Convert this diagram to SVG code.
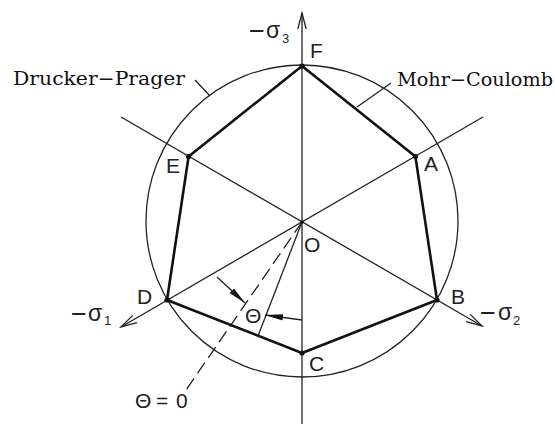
<svg xmlns="http://www.w3.org/2000/svg" width="555" height="426" viewBox="0 0 555 426">
<style>
.thin{fill:none;stroke:#222;stroke-width:1.3}
.thick{fill:none;stroke:#111;stroke-width:2.6;stroke-linejoin:round}
.dash{fill:none;stroke:#222;stroke-width:1.3;stroke-dasharray:13 6}
.lab{font-family:"Liberation Sans",Arial,sans-serif;font-size:21px;fill:#222}
.mn{font-size:27px}
.sg{font-size:23px}
.sub{font-size:13px}
.mono{font-family:"DejaVu Serif","Liberation Serif",serif;font-size:18.5px;fill:#111}
.dot{fill:#111}
</style>
<defs>
<marker id="open" markerUnits="userSpaceOnUse" markerWidth="20" markerHeight="12" refX="18" refY="6" orient="auto"><path d="M2,1.8 L18,6 L2,10.2" fill="none" stroke="#222" stroke-width="1.3"/></marker>
<marker id="solid" markerUnits="userSpaceOnUse" markerWidth="19" markerHeight="10" refX="18" refY="5" orient="auto"><path d="M0,1.8 L18,5 L0,8.2 Z" fill="#111"/></marker>
</defs>
<rect width="555" height="426" fill="#fff"/>
<g id="circle"><circle class="thin" cx="302" cy="221" r="156"/></g>
<g id="connectors">
<line class="thin" x1="302" y1="424" x2="302" y2="13" marker-end="url(#open)"/>
<line class="thin" x1="483" y1="117" x2="121" y2="327" marker-end="url(#open)"/>
<line class="thin" x1="121" y1="117" x2="482" y2="326" marker-end="url(#open)"/>
<line class="thin" x1="302" y1="222" x2="258" y2="336"/>
<line class="dash" x1="302" y1="222" x2="186" y2="390"/>
<line class="thin" x1="217" y1="277" x2="245" y2="303" marker-end="url(#solid)"/>
<line class="thin" x1="302" y1="320" x2="265" y2="315" marker-end="url(#solid)"/>
<line class="thin" x1="195" y1="80" x2="210" y2="96"/>
<line class="thin" x1="391" y1="83" x2="357" y2="107"/>
</g>
<g id="hexagon"><polygon class="thick" points="302,66 415.4,156.5 437,300 302,353 167,300 188.6,156.5"/></g>
<g id="F"><circle class="dot" cx="302" cy="66" r="2.6"/><text class="lab" x="310" y="58">F</text></g>
<g id="A"><circle class="dot" cx="415.4" cy="156.5" r="2.6"/><text class="lab" x="424" y="171">A</text></g>
<g id="B"><circle class="dot" cx="437" cy="300" r="2.6"/><text class="lab" x="451" y="304">B</text></g>
<g id="C"><circle class="dot" cx="302" cy="353" r="2.6"/><text class="lab" x="309" y="371">C</text></g>
<g id="D"><circle class="dot" cx="167" cy="300" r="2.6"/><text class="lab" x="137" y="304">D</text></g>
<g id="E"><circle class="dot" cx="188.6" cy="156.5" r="2.6"/><text class="lab" x="166" y="173">E</text></g>
<g id="O"><circle class="dot" cx="302" cy="222" r="1.6"/><text class="lab" x="304" y="252">O</text></g>
<g id="theta"><text class="lab" x="245" y="323" font-size="19">Θ</text></g>
<g id="theta0"><text class="lab" x="135" y="408" font-size="20">Θ<tspan x="156">=</tspan><tspan x="176">0</tspan></text></g>
<g id="sigma3"><text class="lab" x="249" y="40"><tspan class="mn">−</tspan><tspan class="sg" x="266" y="38">σ</tspan><tspan class="sub" x="282" y="43">3</tspan></text></g>
<g id="sigma1"><text class="lab" x="71" y="323"><tspan class="mn">−</tspan><tspan class="sg" x="88" y="321">σ</tspan><tspan class="sub" x="104" y="325">1</tspan></text></g>
<g id="sigma2"><text class="lab" x="480" y="322"><tspan class="mn">−</tspan><tspan class="sg" x="498" y="320">σ</tspan><tspan class="sub" x="513" y="325">2</tspan></text></g>
<g id="dp"><text class="mono" x="13" y="85" textLength="172" lengthAdjust="spacingAndGlyphs">Drucker−Prager</text></g>
<g id="mc"><text class="mono" x="397" y="86" textLength="156" lengthAdjust="spacingAndGlyphs">Mohr−Coulomb</text></g>
</svg>
